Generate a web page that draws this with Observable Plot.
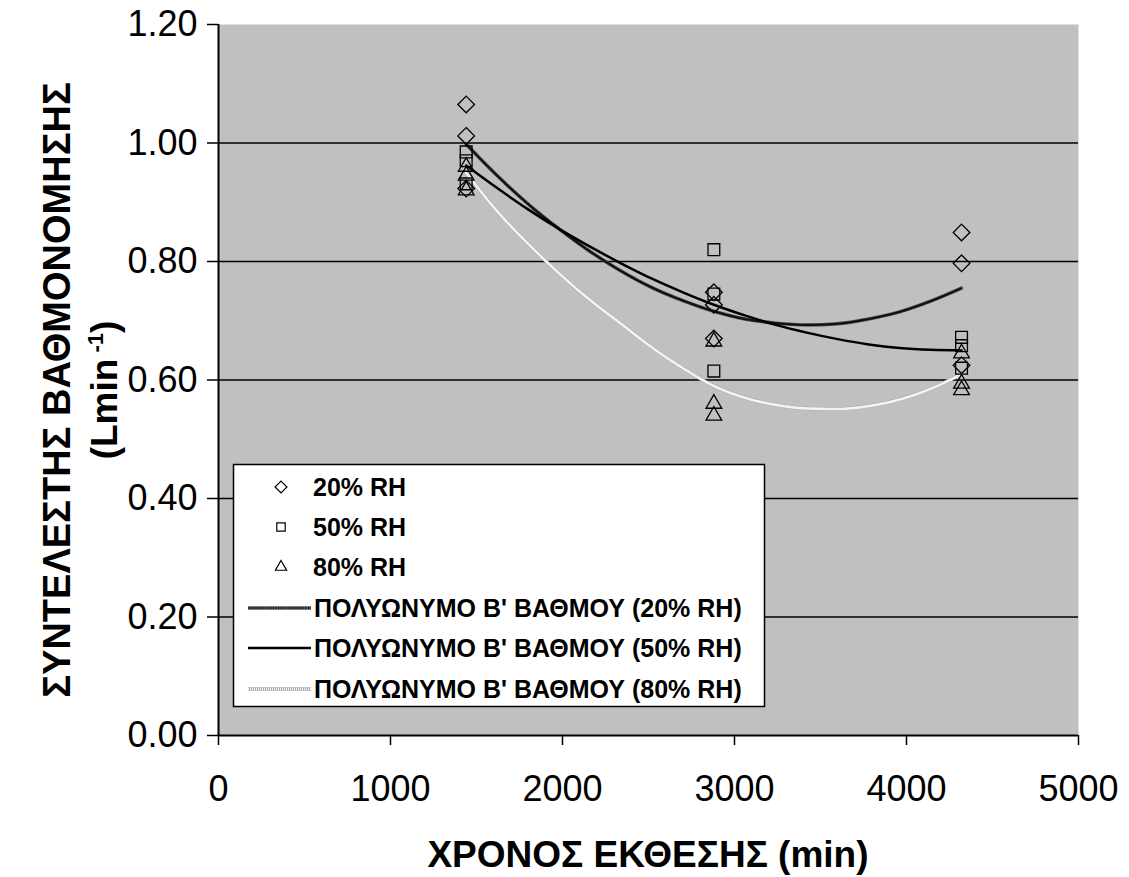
<!DOCTYPE html>
<html><head><meta charset="utf-8">
<script src="https://cdn.jsdelivr.net/npm/d3@7"></script>
<script src="https://cdn.jsdelivr.net/npm/@observablehq/plot@0.6"></script>
<style>
body{margin:0;background:#fff}
#chart{position:relative;width:1129px;height:877px}
</style>
</head><body><div id="chart"></div>
<script>
// --- data ---
const pointTime = [1440, 1440, 1440, 2880, 2880, 2880, 4320, 4320, 4320];
const rh20Values = [1.065, 1.012, 0.923, 0.748, 0.727, 0.670, 0.849, 0.797, 0.625];
const rh50Values = [0.985, 0.970, 0.931, 0.820, 0.745, 0.615, 0.672, 0.658, 0.620];
const rh80Values = [0.960, 0.945, 0.920, 0.665, 0.560, 0.540, 0.645, 0.594, 0.583];

const trendTime = [1440, 1620, 1800, 1980, 2160, 2340, 2520, 2700, 2880, 3060, 3240, 3420, 3600, 3780, 3960, 4140, 4320];
const trend20 = [0.998, 0.945, 0.897, 0.855, 0.817, 0.784, 0.756, 0.734, 0.716, 0.703, 0.696, 0.693, 0.695, 0.703, 0.715, 0.733, 0.755];
const trend50 = [0.962, 0.924, 0.888, 0.855, 0.825, 0.797, 0.771, 0.748, 0.727, 0.709, 0.693, 0.680, 0.669, 0.660, 0.654, 0.651, 0.650];
const trend80 = [0.950, 0.885, 0.830, 0.780, 0.735, 0.695, 0.655, 0.620, 0.590, 0.570, 0.558, 0.552, 0.551, 0.556, 0.567, 0.585, 0.610];

const xTicks = [0, 1000, 2000, 3000, 4000, 5000];
const yTicks = [0, 0.2, 0.4, 0.6, 0.8, 1.0, 1.2];
const gridLines = [0.2, 0.4, 0.6, 0.8, 1.0];

const seriesLabels = ["20% RH", "50% RH", "80% RH"];
const trendLabels = ["ΠΟΛΥΩΝΥΜΟ Β' ΒΑΘΜΟΥ (20% RH)", "ΠΟΛΥΩΝΥΜΟ Β' ΒΑΘΜΟΥ (50% RH)", "ΠΟΛΥΩΝΥΜΟ Β' ΒΑΘΜΟΥ (80% RH)"];
const xTitle = "ΧΡΟΝΟΣ ΕΚΘΕΣΗΣ (min)";
const yTitle = "ΣΥΝΤΕΛΕΣΤΗΣ ΒΑΘΜΟΝΟΜΗΣΗΣ";

// --- tables ---
const pts = (vals) => vals.map((v, i) => ({t: pointTime[i], v}));
const trend = (vals) => vals.map((v, i) => ({t: trendTime[i], v}));
const p20 = pts(rh20Values), p50 = pts(rh50Values), p80 = pts(rh80Values);
const l20 = trend(trend20), l50 = trend(trend50), l80 = trend(trend80);

const FONT = "Arial, 'Liberation Sans', Helvetica, sans-serif";

// line styles (layers) for the three trend lines
const style20 = [{stroke: "#555", w: 3.5}, {stroke: "#111", w: 2.2, dash: "1,1.5"}];
const style50 = [{stroke: "black", w: 2.5}];
const style80 = [{stroke: "#a8a8a8", w: 3.5}, {stroke: "#f4f4f4", w: 2.6, dash: "1,1"}];

const lineLayers = (data, styles) => styles.map(st =>
  Plot.line(data, {x: "t", y: "v", stroke: st.stroke, strokeWidth: st.w, strokeDasharray: st.dash, curve: "monotone-x"}));

const chart = Plot.plot({
  width: 1129, height: 877,
  marginLeft: 218, marginRight: 51, marginTop: 24, marginBottom: 142,
  style: {fontFamily: FONT, background: "white", color: "black"},
  x: {domain: [0, 5000]},
  y: {domain: [0, 1.2]},
  marks: [
    Plot.frame({fill: "#c0c0c0", stroke: null}),
    Plot.ruleY(gridLines, {stroke: "black", strokeWidth: 1.5}),
    Plot.axisX({ticks: xTicks, tickSize: 10, tickPadding: 30, fontSize: 36, tickFormat: d3.format("d"), label: null, stroke: "black", strokeWidth: 1.5}),
    Plot.axisY({ticks: yTicks, tickSize: 11, tickPadding: 10, fontSize: 36, tickFormat: d3.format(".2f"), label: null, stroke: "black", strokeWidth: 1.5}),
    Plot.ruleY([0], {stroke: "black", strokeWidth: 2}),
    Plot.ruleX([0], {stroke: "black", strokeWidth: 2}),
    ...lineLayers(l80, style80),
    ...lineLayers(l20, style20),
    ...lineLayers(l50, style50),
    Plot.dot(p20, {x: "t", y: "v", symbol: "diamond2", r: 7.5, stroke: "black", strokeWidth: 1.3, fill: "none"}),
    Plot.dot(p50, {x: "t", y: "v", symbol: "square2", r: 7.5, stroke: "black", strokeWidth: 1.3, fill: "none"}),
    Plot.dot(p80, {x: "t", y: "v", symbol: "triangle2", r: 7.5, stroke: "black", strokeWidth: 1.3, fill: "none"})
  ]
});

document.getElementById("chart").appendChild(chart);

// titles and legend
const svg = d3.select(chart);
svg.append("text")
  .attr("x", 648).attr("y", 867)
  .attr("text-anchor", "middle")
  .attr("font-family", FONT).attr("font-weight", "bold").attr("font-size", 37)
  .attr("fill", "black")
  .text(xTitle);

const yt = svg.append("g").attr("font-family", FONT).attr("font-weight", "bold").attr("fill", "black");
yt.append("text")
  .attr("transform", "translate(70,390) rotate(-90)")
  .attr("text-anchor", "middle").attr("font-size", 38)
  .text(yTitle);
const yt2 = yt.append("text")
  .attr("transform", "translate(117,390) rotate(-90)")
  .attr("text-anchor", "middle").attr("font-size", 37);
yt2.append("tspan").text("(Lmin");
yt2.append("tspan").attr("font-size", 22).attr("dy", -14).text(" -1");
yt2.append("tspan").attr("dy", 14).text(")");

const lg = svg.append("g").attr("font-family", FONT).attr("text-anchor", "start").attr("fill", "black");
lg.append("rect").attr("x", 233.5).attr("y", 464.5).attr("width", 531).attr("height", 242)
  .attr("fill", "white").attr("stroke", "black").attr("stroke-width", 1.5);
const rowY = [487, 527, 567, 608, 648, 689];
const symbols = [d3.symbolDiamond2, d3.symbolSquare2, d3.symbolTriangle2];
symbols.forEach((s, i) => {
  lg.append("path").attr("d", d3.symbol(s, 90)())
    .attr("transform", `translate(281,${rowY[i]})`)
    .attr("fill", "none").attr("stroke", "black").attr("stroke-width", 1.2);
  lg.append("text").attr("x", 313).attr("y", rowY[i]).attr("dy", "0.36em")
    .attr("text-anchor", "start")
    .attr("font-size", 25).attr("font-weight", "bold").text(seriesLabels[i]);
});
[style20, style50, style80].forEach((styles, i) => {
  const y = rowY[3 + i];
  styles.forEach(st => {
    lg.append("line").attr("x1", 248).attr("x2", 311).attr("y1", y).attr("y2", y)
      .attr("stroke", st.stroke).attr("stroke-width", st.w)
      .attr("stroke-dasharray", st.dash || null);
  });
  lg.append("text").attr("x", 314).attr("y", y).attr("dy", "0.36em")
    .attr("text-anchor", "start")
    .attr("font-size", 25).attr("font-weight", "bold").text(trendLabels[i]);
});
</script>
</body></html>
